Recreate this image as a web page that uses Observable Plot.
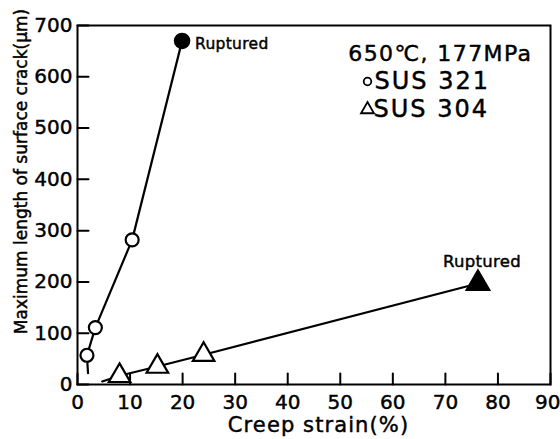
<!DOCTYPE html>
<html>
<head>
<meta charset="utf-8">
<script src="https://cdn.jsdelivr.net/npm/d3@7"></script>
<script src="https://cdn.jsdelivr.net/npm/@observablehq/plot@0.6"></script>
<style>
  html, body { margin: 0; padding: 0; background: #fff; }
  #chart svg { display: block; }
  #chart svg text { stroke: #000; stroke-width: 0.45px; }
</style>
</head>
<body>
<div id="chart"></div>
<script>
// ---- data ----
const xTicks = [0, 10, 20, 30, 40, 50, 60, 70, 80, 90];
const yTicks = [0, 100, 200, 300, 400, 500, 600, 700];

// SUS 321 (circles)
const sus321Strain = [1.8, 3.4, 10.4];
const sus321Crack = [57, 111, 282];
const sus321RupStrain = [19.9];
const sus321RupCrack = [670];
const sus321LineStrain = [2.0, 1.8, 3.4, 10.4, 19.9];
const sus321LineCrack = [22, 57, 111, 282, 670];

// SUS 304 (triangles)
const sus304Strain = [8.0, 15.2, 24.0];
const sus304Crack = [17, 35, 58];
const sus304RupStrain = [76.2];
const sus304RupCrack = [197];
const sus304LineStrain = [4.7, 8.0, 15.2, 24.0, 76.2];
const sus304LineCrack = [6, 17, 35, 58, 197];

const conditionLabel = "650\u2103, 177MPa";
const seriesLabels = ["SUS 321", "SUS 304"];
const rupturedLabel = "Ruptured";
const xLabel = "Creep strain(%)";
const yLabel = "Maximum length of surface crack(\u03bcm)";

// ---- build tables ----
const zip = (xs, ys) => xs.map((x, i) => ({x, y: ys[i]}));
const l321 = zip(sus321LineStrain, sus321LineCrack);
const l304 = zip(sus304LineStrain, sus304LineCrack);
const p321 = zip(sus321Strain, sus321Crack);
const p304 = zip(sus304Strain, sus304Crack);
const r321 = zip(sus321RupStrain, sus321RupCrack);
const r304 = zip(sus304RupStrain, sus304RupCrack);
const xTicksInner = xTicks.slice(0, -1);
const xTickLast = xTicks.slice(-1);

const spike = {draw(ctx, l) { ctx.moveTo(0, 0); ctx.lineTo(0, -l); }};
const FONT = "DejaVu Sans";

const chart = Plot.plot({
  width: 560,
  height: 439,
  marginLeft: 77,
  marginRight: 10,
  marginTop: 25,
  marginBottom: 55,
  style: {fontFamily: FONT, background: "#fff", color: "#000"},
  x: {domain: [0, 90]},
  y: {domain: [0, 700]},
  marks: [
    Plot.frame({stroke: "#000", strokeWidth: 2}),
    // inward ticks
    Plot.vector(xTicks, {x: d => d, frameAnchor: "bottom", length: 11, anchor: "start", shape: spike, stroke: "#000", strokeWidth: 2}),
    Plot.vector(yTicks, {y: d => d, frameAnchor: "left", length: 11, rotate: 90, anchor: "start", shape: spike, stroke: "#000", strokeWidth: 2}),
    Plot.axisX(xTicksInner, {tickSize: 0, tickPadding: 10, fontSize: 20, label: null, fill: "#000"}),
    Plot.axisX(xTickLast, {tickSize: 0, tickPadding: 10, fontSize: 20, label: null, fill: "#000", textAnchor: "end", dx: 10}),
    Plot.axisY(yTicks, {tickSize: 0, tickPadding: 5, fontSize: 20, label: null, fill: "#000"}),
    // axis titles
    Plot.text([xLabel], {frameAnchor: "bottom", textAnchor: "middle", lineAnchor: "middle", dx: 4.5, dy: 41, fontSize: 21, fill: "#000"}),
    Plot.text([yLabel], {frameAnchor: "left", textAnchor: "middle", lineAnchor: "middle", rotate: -90, dx: -55.5, dy: -33.5, fontSize: 17, fill: "#000"}),
    // lines
    Plot.line(l321, {x: "x", y: "y", stroke: "#000", strokeWidth: 2.2}),
    Plot.line(l304, {x: "x", y: "y", stroke: "#000", strokeWidth: 2.2}),
    // markers
    Plot.dot(p321, {x: "x", y: "y", symbol: "circle", r: 6.5, fill: "#fff", stroke: "#000", strokeWidth: 2.2}),
    Plot.dot(r321, {x: "x", y: "y", symbol: "circle", r: 7.5, fill: "#000", stroke: "#000"}),
    Plot.dot(p304, {x: "x", y: "y", symbol: "triangle", r: 8, fill: "#fff", stroke: "#000", strokeWidth: 2.2}),
    Plot.dot(r304, {x: "x", y: "y", symbol: "triangle", r: 8.8, fill: "#000", stroke: "#000"}),
    // ruptured annotations
    Plot.text(r321, {x: "x", y: "y", text: () => rupturedLabel, textAnchor: "start", lineAnchor: "middle", dx: 13, dy: 3, fontSize: 15.5, fill: "#000"}),
    Plot.text(r304, {x: "x", y: "y", text: () => rupturedLabel, textAnchor: "middle", lineAnchor: "middle", dx: 4, dy: -21.5, fontSize: 16.5, fill: "#000"}),
    // legend
    Plot.text([conditionLabel], {frameAnchor: "top-right", textAnchor: "end", lineAnchor: "middle", dx: -18, dy: 28, fontSize: 22, fill: "#000"}),
    Plot.dot([seriesLabels[0]], {frameAnchor: "top-left", dx: 290, dy: 56, symbol: "circle", r: 3.8, fill: "#fff", stroke: "#000", strokeWidth: 1.8}),
    Plot.text([seriesLabels[0]], {frameAnchor: "top-left", textAnchor: "start", lineAnchor: "middle", dx: 297, dy: 56, fontSize: 24, fill: "#000"}),
    Plot.dot([seriesLabels[1]], {frameAnchor: "top-left", dx: 290, dy: 84, symbol: "triangle", r: 4.8, fill: "#fff", stroke: "#000", strokeWidth: 1.8}),
    Plot.text([seriesLabels[1]], {frameAnchor: "top-left", textAnchor: "start", lineAnchor: "middle", dx: 296, dy: 83.5, fontSize: 24, fill: "#000"})
  ]
});

// letter spacing (style only) for the wide-set labels of the reference
const spacing = new Map([
  [xLabel, "1.1px"],
  [conditionLabel, "1.4px"],
  [seriesLabels[0], "2px"],
  [seriesLabels[1], "2px"],
  [rupturedLabel, "0.3px"]
]);
d3.select(chart).selectAll("text").each(function () {
  const s = spacing.get(this.textContent);
  if (s) this.setAttribute("letter-spacing", s);
});
document.getElementById("chart").appendChild(chart);
</script>
</body>
</html>
